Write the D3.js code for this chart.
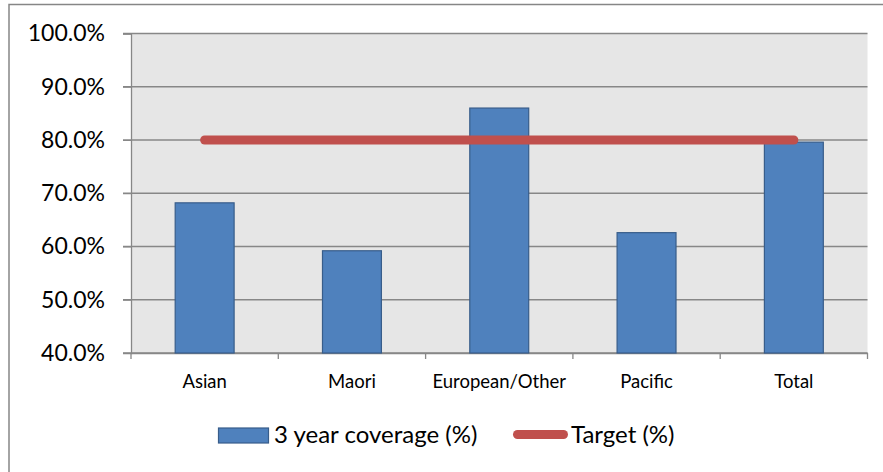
<!DOCTYPE html>
<html><head><meta charset="utf-8">
<script src="https://cdn.jsdelivr.net/npm/d3@7"></script>
<style>body{margin:0;background:#fff}svg{display:block}</style>
</head><body>
<svg id="c" width="883" height="472"></svg>
<script>
const categories = ["Asian", "Maori", "European/Other", "Pacific", "Total"];
const coverage = [68.2, 59.2, 86.0, 62.6, 79.6];
const target = [80, 80, 80, 80, 80];
const yTicks = [40, 50, 60, 70, 80, 90, 100];
const seriesNames = ["3 year coverage (%)", "Target (%)"];

const svg = d3.select("#c");
const font = "Lato, 'Open Sans', sans-serif";
const pLeft = 131, pRight = 867.5, pTop = 33.5, pBottom = 353;

// outer chart border
svg.append("rect").attr("x", 9).attr("y", 4.5).attr("width", 900).attr("height", 500)
  .attr("fill", "none").attr("stroke", "#868686").attr("stroke-width", 1.5);

const x = d3.scaleBand().domain(categories).range([pLeft, pRight]).paddingInner(0.6).paddingOuter(0.3);
const xb = d3.scaleBand().domain(categories).range([pLeft, pRight]);
const y = d3.scaleLinear().domain([40, 100]).range([pBottom, pTop]);

svg.append("rect").attr("x", pLeft).attr("y", pTop).attr("width", pRight - pLeft).attr("height", pBottom - pTop).attr("fill", "#E6E6E6");

// gridlines
svg.append("g").selectAll("line").data(yTicks).join("line")
  .attr("x1", pLeft - 8).attr("x2", pRight).attr("y1", d => y(d)).attr("y2", d => y(d))
  .attr("stroke", "#878787").attr("stroke-width", 1.3);

// y axis
const yAxis = svg.append("g").attr("transform", `translate(${pLeft},0)`)
  .call(d3.axisLeft(y).tickValues(yTicks).tickSize(8).tickPadding(18).tickFormat(d => d.toFixed(1) + "%"));
yAxis.select(".domain").attr("stroke", "#878787").attr("stroke-width", 1.3);
yAxis.selectAll(".tick line").attr("stroke", "#878787");
yAxis.selectAll("text").attr("font-family", font).attr("font-size", 23).attr("fill", "#000");

// x axis
const xAxis = svg.append("g").attr("transform", `translate(0,${pBottom})`)
  .call(d3.axisBottom(xb).tickSize(0).tickPadding(18));
xAxis.select(".domain").attr("stroke", "#878787").attr("stroke-width", 1.3);
xAxis.selectAll("text").attr("font-family", font).attr("font-size", 18.5).attr("fill", "#000")
  .attr("y", 35).attr("dy", null);
const bounds = categories.map(c => xb(c)).concat([pRight]);
svg.append("g").selectAll("line").data(bounds).join("line")
  .attr("x1", d => d).attr("x2", d => d).attr("y1", pBottom).attr("y2", pBottom + 6)
  .attr("stroke", "#878787").attr("stroke-width", 1.3);

// bars
svg.append("g").selectAll("rect").data(categories).join("rect")
  .attr("x", d => x(d)).attr("width", x.bandwidth())
  .attr("y", (d, i) => y(coverage[i])).attr("height", (d, i) => pBottom - y(coverage[i]))
  .attr("fill", "#4F81BD").attr("stroke", "#385D8A").attr("stroke-width", 1.2);

// target line
const line = d3.line().x((d, i) => xb(categories[i]) + xb.bandwidth() / 2).y(d => y(d));
svg.append("path").datum(target).attr("d", line).attr("fill", "none")
  .attr("stroke", "#C0504D").attr("stroke-width", 9).attr("stroke-linecap", "round");

// legend
const lg = svg.append("g");
lg.append("rect").attr("x", 218.5).attr("y", 428).attr("width", 50).attr("height", 15)
  .attr("fill", "#4F81BD").attr("stroke", "#385D8A").attr("stroke-width", 1.2);
lg.append("text").attr("x", 274).attr("y", 442.5).text(seriesNames[0])
  .attr("font-family", font).attr("font-size", 24).attr("fill", "#000");
lg.append("line").attr("x1", 517.5).attr("x2", 563.5).attr("y1", 434.5).attr("y2", 434.5)
  .attr("stroke", "#C0504D").attr("stroke-width", 9).attr("stroke-linecap", "round");
lg.append("text").attr("x", 571).attr("y", 442.5).text(seriesNames[1])
  .attr("font-family", font).attr("font-size", 24).attr("fill", "#000");
</script>
</body></html>
